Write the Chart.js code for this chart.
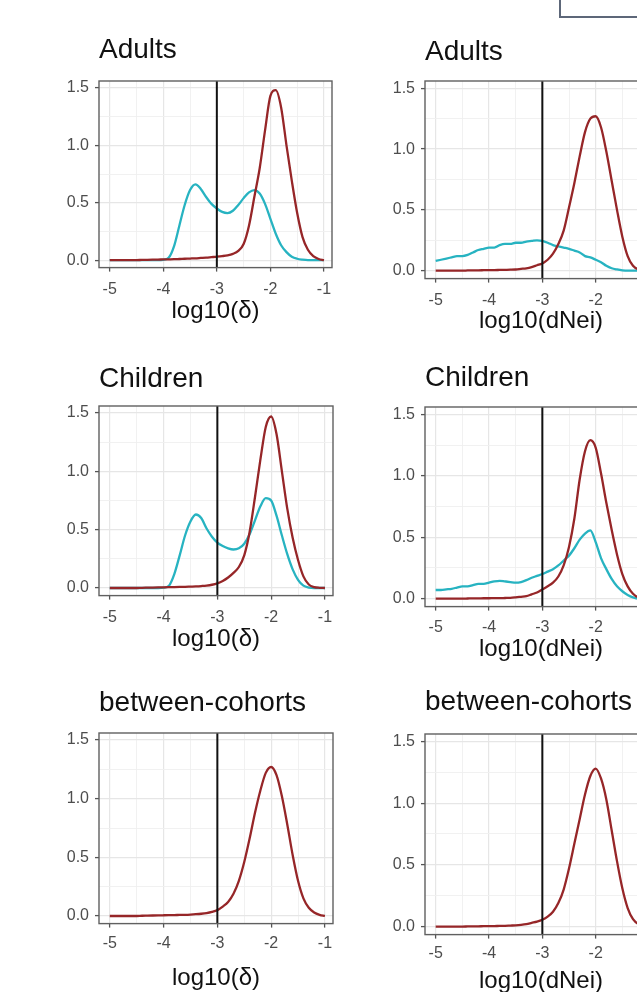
<!DOCTYPE html>
<html>
<head>
<meta charset="utf-8">
<script src="https://cdn.jsdelivr.net/npm/chart.js@4.4.1/dist/chart.umd.min.js"></script>
<style>
html,body{margin:0;padding:0;background:#fff;overflow:hidden;width:637px;height:992px;}
.panel{position:absolute;}
.panel canvas{display:block;}
#legendBox{position:absolute;left:559px;top:-20px;width:160px;height:34px;border:2px solid #5d6779;box-sizing:content-box;}
</style>
</head>
<body>
<div id="legendBox"></div>
<script>
// ---------- data ----------
const xs = [-5.0,-4.9,-4.8,-4.7,-4.6,-4.5,-4.4,-4.3,-4.2,-4.1,-4.0,
            -3.9,-3.8,-3.7,-3.6,-3.5,-3.4,-3.3,-3.2,-3.1,-3.0,
            -2.9,-2.8,-2.7,-2.6,-2.5,-2.4,-2.3,-2.2,-2.1,-2.0,
            -1.9,-1.8,-1.7,-1.6,-1.5,-1.4,-1.3,-1.2,-1.1,-1.0];

const thresholdX = -3;
const xTickLabels = [-5, -4, -3, -2, -1];
const xGridValues = [-5, -4.5, -4, -3.5, -3, -2.5, -2, -1.5, -1];
const yTickLabels = [0, 0.5, 1.0, 1.5];
const yGridValues = [0, 0.25, 0.5, 0.75, 1.0, 1.25, 1.5];

const panelTitles = ['Adults', 'Adults', 'Children', 'Children', 'between-cohorts', 'between-cohorts'];
const axisTitles = ['log10(\u03b4)', 'log10(dNei)'];

// Adults, log10(delta)
const adultsDeltaRed = [0,0,0,0,0,0,0.002,0.003,0.004,0.005,0.006,
  0.007,0.008,0.01,0.012,0.014,0.016,0.019,0.022,0.026,0.03,
  0.035,0.042,0.055,0.08,0.14,0.30,0.55,0.80,1.13,1.43,
  1.48,1.33,1.00,0.69,0.41,0.20,0.09,0.035,0.01,0];
const adultsDeltaCyan = [0,0,0,0,0,0,0,0,0,0,0.003,
  0.02,0.12,0.30,0.48,0.61,0.66,0.62,0.55,0.49,0.45,
  0.42,0.41,0.43,0.48,0.54,0.59,0.61,0.58,0.49,0.36,
  0.23,0.13,0.07,0.03,0.012,0.004,0,0,0,0];

// Adults, log10(dNei)
const adultsNeiRed = [0,0,0,0,0,0,0.002,0.003,0.003,0.004,0.005,
  0.005,0.006,0.007,0.008,0.01,0.015,0.02,0.03,0.045,0.06,
  0.09,0.14,0.22,0.33,0.52,0.72,0.94,1.14,1.25,1.27,
  1.18,0.98,0.74,0.50,0.28,0.12,0.04,0.01,0.002,0];
const adultsNeiCyan = [0.08,0.09,0.10,0.11,0.12,0.12,0.13,0.15,0.17,0.18,0.19,
  0.19,0.21,0.22,0.22,0.23,0.23,0.24,0.245,0.25,0.245,
  0.23,0.21,0.20,0.19,0.18,0.165,0.15,0.12,0.11,0.09,
  0.07,0.04,0.02,0.01,0.003,0,0,0,0,0];

// Children, log10(delta)
const childrenDeltaRed = [0,0,0,0,0,0,0.002,0.003,0.004,0.005,0.006,
  0.007,0.008,0.009,0.01,0.012,0.014,0.017,0.021,0.028,0.04,
  0.06,0.09,0.13,0.18,0.28,0.48,0.78,1.10,1.38,1.47,
  1.32,1.00,0.68,0.43,0.24,0.10,0.03,0.008,0.002,0];
const childrenDeltaCyan = [0,0,0,0,0,0,0,0,0,0,0.003,
  0.02,0.12,0.28,0.45,0.57,0.63,0.60,0.51,0.44,0.39,
  0.36,0.34,0.33,0.34,0.38,0.46,0.58,0.70,0.77,0.75,
  0.62,0.45,0.29,0.16,0.07,0.02,0.004,0,0,0];

// Children, log10(dNei)
const childrenNeiRed = [0,0,0,0,0,0,0.001,0.002,0.002,0.003,0.003,
  0.004,0.004,0.005,0.006,0.01,0.015,0.02,0.035,0.05,0.075,
  0.10,0.13,0.18,0.27,0.42,0.65,0.97,1.20,1.29,1.23,
  1.02,0.78,0.56,0.36,0.20,0.10,0.04,0.01,0.002,0];
const childrenNeiCyan = [0.07,0.07,0.075,0.08,0.09,0.10,0.10,0.11,0.12,0.12,0.13,
  0.14,0.145,0.14,0.135,0.13,0.135,0.15,0.17,0.185,0.20,
  0.22,0.24,0.27,0.31,0.35,0.41,0.48,0.53,0.555,0.46,
  0.33,0.24,0.16,0.10,0.06,0.03,0.01,0,0,0];

// between-cohorts
const betweenDeltaRed = [0,0,0,0,0,0,0.002,0.003,0.004,0.005,0.006,
  0.007,0.008,0.009,0.01,0.012,0.015,0.019,0.025,0.035,0.05,
  0.08,0.12,0.19,0.30,0.46,0.66,0.88,1.07,1.22,1.27,
  1.20,1.02,0.78,0.52,0.30,0.15,0.07,0.03,0.01,0];
const betweenNeiRed = [0,0,0,0,0,0,0.001,0.002,0.002,0.003,0.003,
  0.004,0.005,0.006,0.008,0.01,0.014,0.02,0.03,0.04,0.055,
  0.08,0.12,0.19,0.30,0.47,0.67,0.87,1.07,1.22,1.28,
  1.20,1.03,0.78,0.53,0.31,0.15,0.06,0.02,0.005,0];

// ---------- styling / layout ----------
const RED = '#962628';
const CYAN = '#27b3c1';
const FONT = "'Liberation Sans', Arial, Helvetica, sans-serif";
const X_MIN = -5.2, X_MAX = -0.85, Y_MIN = -0.065, Y_MAX = 1.56;

const panels = [
  {title: panelTitles[0], xTitle: axisTitles[0], series: [adultsDeltaRed, adultsDeltaCyan],
   area: [99, 81, 332, 267], titleY: 50, xLabY: 289, xTitleY: 311},
  {title: panelTitles[1], xTitle: axisTitles[1], series: [adultsNeiRed, adultsNeiCyan],
   area: [425, 81, 657, 278], titleY: 52, xLabY: 300, xTitleY: 321},
  {title: panelTitles[2], xTitle: axisTitles[0], series: [childrenDeltaRed, childrenDeltaCyan],
   area: [99, 406, 333, 595], titleY: 379, xLabY: 617, xTitleY: 639},
  {title: panelTitles[3], xTitle: axisTitles[1], series: [childrenNeiRed, childrenNeiCyan],
   area: [425, 407, 657, 606], titleY: 378, xLabY: 627, xTitleY: 649},
  {title: panelTitles[4], xTitle: axisTitles[0], series: [betweenDeltaRed],
   area: [99, 733, 333, 923], titleY: 703, xLabY: 943, xTitleY: 978},
  {title: panelTitles[5], xTitle: axisTitles[1], series: [betweenNeiRed],
   area: [425, 734, 657, 934], titleY: 702, xLabY: 953, xTitleY: 981}
];

const panelBorder = {
  id: 'panelBorder',
  afterDraw(chart) {
    const {ctx, chartArea: a} = chart;
    ctx.save();
    ctx.strokeStyle = '#606060';
    ctx.lineWidth = 1.4;
    ctx.strokeRect(a.left, a.top, a.right - a.left, a.bottom - a.top);
    ctx.restore();
  }
};

const TITLE_SIZE = 28, TICK_SIZE = 16, AXIS_TITLE_SIZE = 24;
const TICK_LEN = 4, Y_AXIS_W = 45, PAD_RIGHT = 15;

const isMajorX = v => xTickLabels.some(t => Math.abs(t - v) < 1e-9);
const isMajorY = v => yTickLabels.some(t => Math.abs(t - v) < 1e-9);

panels.forEach(p => {
  const [L, T, R, B] = p.area;
  const tLH = TITLE_SIZE * 1.2;
  const ctop = Math.round(p.titleY - tLH / 2 - 3);
  const titlePadTop = p.titleY - ctop - tLH / 2;
  const titlePadBottom = T - p.titleY - tLH / 2;
  const tickPad = p.xLabY - B - TICK_LEN - TICK_SIZE * 1.2 / 2;
  const axLH = AXIS_TITLE_SIZE * 1.2;
  const axisBottom = p.xTitleY + axLH / 2 + 2;
  const xH = axisBottom - B;
  const cleft = L - Y_AXIS_W;
  const W = Y_AXIS_W + (R - L) + PAD_RIGHT;
  const H = Math.ceil(axisBottom - ctop);

  const div = document.createElement('div');
  div.className = 'panel';
  div.style.left = cleft + 'px';
  div.style.top = ctop + 'px';
  const cv = document.createElement('canvas');
  cv.width = W; cv.height = H;
  cv.style.width = W + 'px'; cv.style.height = H + 'px';
  div.appendChild(cv);
  document.body.appendChild(div);

  const colors = [RED, CYAN];
  const datasets = [{
    label: 'threshold',
    data: [{x: thresholdX, y: Y_MIN}, {x: thresholdX, y: Y_MAX}],
    borderColor: '#111', borderWidth: 2, pointRadius: 0, fill: false
  }];
  p.series.forEach((s, k) => {
    datasets.push({
      label: k === 0 ? 'red' : 'cyan',
      data: xs.map((x, i) => ({x: x, y: s[i]})),
      borderColor: colors[k], borderWidth: 2.3, pointRadius: 0, fill: false,
      cubicInterpolationMode: 'monotone'
    });
  });

  new Chart(cv, {
    type: 'line',
    data: {datasets},
    plugins: [panelBorder],
    options: {
      responsive: false, animation: false, devicePixelRatio: 1,
      layout: {padding: {left: 0, top: 0, bottom: 0, right: PAD_RIGHT}},
      plugins: {
        legend: {display: false}, tooltip: {enabled: false},
        title: {display: true, text: p.title, align: 'start', fullSize: false,
          color: '#111', font: {family: FONT, size: TITLE_SIZE, weight: 'normal'},
          padding: {top: titlePadTop, bottom: titlePadBottom}}
      },
      scales: {
        x: {
          type: 'linear', min: X_MIN, max: X_MAX, bounds: 'data',
          afterBuildTicks: s => { s.ticks = xGridValues.map(v => ({value: v})); },
          afterFit: s => { s.height = xH; },
          ticks: {autoSkip: false, maxRotation: 0, minRotation: 0, padding: tickPad,
            color: '#4d4d4d', font: {family: FONT, size: TICK_SIZE},
            callback: v => isMajorX(v) ? String(v) : ''},
          grid: {
            color: c => isMajorX(c.tick.value) ? '#e6e6e6' : '#efefef',
            lineWidth: c => isMajorX(c.tick.value) ? 1.2 : 0.9,
            tickLength: TICK_LEN, tickWidth: 1.3,
            tickColor: c => isMajorX(c.tick.value) ? '#555' : 'rgba(0,0,0,0)'
          },
          border: {display: false},
          title: {display: true, text: p.xTitle, color: '#111',
            font: {family: FONT, size: AXIS_TITLE_SIZE}, padding: {top: 0, bottom: 2}}
        },
        y: {
          type: 'linear', min: Y_MIN, max: Y_MAX, bounds: 'data',
          afterBuildTicks: s => { s.ticks = yGridValues.map(v => ({value: v})); },
          afterFit: s => { s.width = Y_AXIS_W; },
          ticks: {autoSkip: false, padding: 6, color: '#4d4d4d',
            font: {family: FONT, size: TICK_SIZE},
            callback: v => isMajorY(v) ? v.toFixed(1) : ''},
          grid: {
            color: c => isMajorY(c.tick.value) ? '#e6e6e6' : '#efefef',
            lineWidth: c => isMajorY(c.tick.value) ? 1.2 : 0.9,
            tickLength: TICK_LEN, tickWidth: 1.3,
            tickColor: c => isMajorY(c.tick.value) ? '#555' : 'rgba(0,0,0,0)'
          },
          border: {display: false}
        }
      }
    }
  });
});
</script>
</body>
</html>
